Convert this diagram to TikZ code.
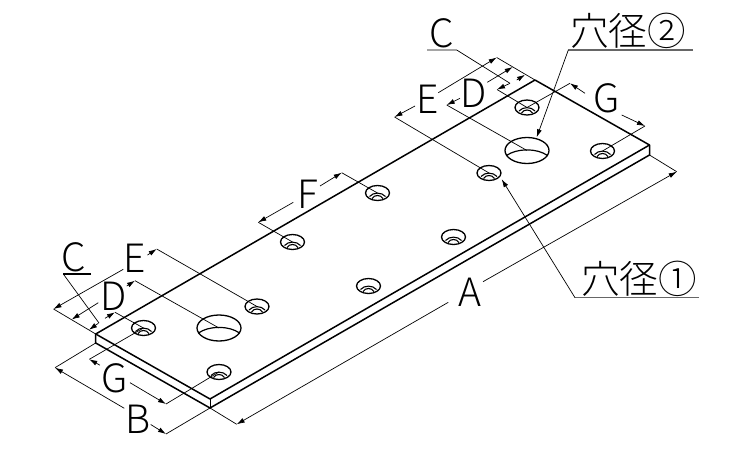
\documentclass[tikz,border=0pt]{standalone}
\usepackage{fontspec}
\setmainfont{Carlito}
\newfontfamily\cjk{Noto Sans CJK JP Light}
\usetikzlibrary{arrows.meta,shapes.geometric}
\tikzset{
  plate/.style={line width=1.5pt,line join=round},
  dimline/.style={line width=.7pt,-{Latex[length=8pt,width=5pt]}},
  extline/.style={line width=.7pt},
  smallhole/.style={ellipse,draw,line width=1.3pt,inner sep=0pt,minimum width=24pt,minimum height=15pt},
  bighole/.style={ellipse,draw,line width=1.3pt,inner sep=0pt,minimum width=44pt,minimum height=26pt},
  letter/.style={font=\cjk\fontsize{39}{39}\selectfont,inner sep=0pt},
  jplabel/.style={font=\cjk\fontsize{38.5}{38.5}\selectfont,inner sep=0pt},
  underline/.style={line width=1.2pt,draw=black!60}
}
\begin{document}
\begin{tikzpicture}[x=1pt,y=-1pt]
  \useasboundingbox (0,0) rectangle (750,450);
  % plate
  \coordinate (left) at (95.7,334);
  \coordinate (leftb) at (95.7,343);
  \coordinate (front) at (210,399);
  \coordinate (frontb) at (210,408);
  \coordinate (right) at (649.5,145);
  \coordinate (rightb) at (649.5,155);
  \coordinate (back) at (535,80);
  \draw[plate] (back) -- (left) -- (leftb) -- (frontb) -- (rightb) -- (right) -- (back);
  \draw[plate] (left) -- (front) -- (right);
  \draw[line width=.7pt] (front) -- (frontb);
  % holes
  \foreach \n/\p in {ha/{143.5,328},hb/{219,372},hc/{257,306.5},hd/{292.5,242},he/{377.5,193},
      hf/{368.5,286},hg/{453.5,237},hh/{489,173},hi/{527,107.5},hj/{602.5,151}} {
    \node[smallhole] (\n) at (\p) {};
    \draw[line width=1.1pt,shift={(\p)}] (-8,3.5) .. controls (-4,-1) and (4,-1) .. (8,3.5);
    \draw[line width=1.1pt,shift={(\p)}] (-5.5,5.5) .. controls (-3,1.5) and (3,1.5) .. (5.5,5.5);
  }
  \foreach \n/\p in {hk/{219,328},hl/{527,150.5}} {
    \node[bighole] (\n) at (\p) {};
    \draw[line width=1.2pt,shift={(\p)}] (-20.5,5) .. controls (-10,-2.5) and (10,-2.5) .. (20.5,5);
  }
  % labels
  \node[letter] (lblAa) at (470,292) {A};
  \node[letter] (lblB) at (138.5,419) {B};
  \node[letter] (lblCl) at (73.5,257) {C};
  \node[letter] (lblCr) at (441.5,33) {C};
  \node[letter] (lblDl) at (113.5,296) {D};
  \node[letter] (lblDr) at (474,93) {D};
  \node[letter] (lblEl) at (135,258) {E};
  \node[letter] (lblEr) at (427.5,99) {E};
  \node[letter] (lblF) at (307.5,194) {F};
  \node[letter] (lblGl) at (114.5,378) {G};
  \node[letter] (lblGr) at (606.5,98) {G};
  \node[jplabel] (dia1) at (639,279) {穴径①};
  \node[jplabel] (dia2) at (628,31) {穴径②};
  % extension lines, left end
  \coordinate (extA) at (53.5,309);
  \coordinate (extB) at (71.7,319.5);
  \coordinate (extC) at (89,329.8);
  \coordinate (extCb) at (115,312.3);
  \coordinate (extDb) at (135,280.7);
  \coordinate (extEb) at (156.7,249);
  \coordinate (extG) at (89.3,359.3);
  \coordinate (extGb) at (166,404);
  \coordinate (extH) at (55,367.7);
  \coordinate (extHb) at (166,434);
  \draw[extline] (left) -- (extA);
  \draw[extline] (extCb) -- (ha.center);
  \draw[extline] (extDb) -- (hk.center);
  \draw[extline] (extEb) -- (hc.center);
  \draw[extline] (ha.center) -- (extG);
  \draw[extline] (hb.center) -- (extGb);
  \draw[extline] (leftb) -- (extH);
  \draw[extline] (frontb) -- (extHb);
  % dimensions, left end
  \draw[dimline] (123.3,269.3) -- (extA);
  \draw[dimline] (147.5,255) -- (extEb);
  \draw[dimline] (98.3,302.7) -- (extB);
  \draw[dimline] (126.7,286) -- (extDb);
  \draw[dimline] (98.3,323.3) -- (extC);
  \draw[dimline] (105,318.3) -- (extCb);
  \draw[dimline] (100,365.2) -- (extG);
  \draw[dimline] (130,382.7) -- (extGb);
  \draw[dimline] (124.3,408.3) -- (extH);
  \draw[dimline] (150.7,424.5) -- (extHb);
  % C leader, left end
  \draw[underline,draw=black] (91,274) -- (63.3,274);
  \draw[extline] (63.3,274) -- (99,323);
  % extension lines, right end
  \coordinate (extAa) at (236.7,424.3);
  \coordinate (extAb) at (676.7,171.7);
  \coordinate (extE) at (496.7,57.5);
  \coordinate (extD) at (512.7,67);
  \coordinate (extC2) at (525,74.8);
  \coordinate (extC3) at (497,89.5);
  \coordinate (extD2) at (446.7,105);
  \coordinate (extE2) at (394.5,117);
  \coordinate (extG2) at (570,83.3);
  \coordinate (extG3) at (645,126);
  \coordinate (extF) at (341.7,172.7);
  \coordinate (extF2) at (258.3,222.3);
  \draw[extline] (back) -- (extE);
  \draw[extline] (extC3) -- (hi.center);
  \draw[extline] (extD2) -- (hl.center);
  \draw[extline] (extE2) -- (hh.center);
  \draw[extline] (hi.center) -- (extG2);
  \draw[extline] (hj.center) -- (extG3);
  \draw[extline] (rightb) -- (extAb);
  \draw[extline] (frontb) -- (extAa);
  \draw[extline] (extF) -- (he.center);
  \draw[extline] (extF2) -- (hd.center);
  % dimensions, right end
  \draw[dimline] (438.3,92.7) -- (extE);
  \draw[dimline] (415,106) -- (extE2);
  \draw[dimline] (487.3,82.3) -- (extD);
  \draw[dimline] (460,98.3) -- (extD2);
  \draw[dimline] (516.7,80) -- (extC2);
  \draw[dimline] (510,83.3) -- (extC3);
  \draw[dimline] (585,93.3) -- (extG2);
  \draw[dimline] (621.7,115) -- (extG3);
  \draw[dimline] (483,281.7) -- (extAb);
  \draw[dimline] (448.3,302.3) -- (extAa);
  \draw[dimline] (320,186) -- (extF);
  \draw[dimline] (293.3,202.3) -- (extF2);
  % leaders
  \draw[extline] (427,50) -- (456.7,50) -- (510,83.3);
  \draw[underline] (693,50) -- (568.3,50);
  \draw[dimline] (568.3,50) -- (536.7,137.3);
  \draw[underline] (699,297.7) -- (575,297.7);
  \draw[dimline] (575,297.7) -- (501.7,179.3);
\end{tikzpicture}
\end{document}
